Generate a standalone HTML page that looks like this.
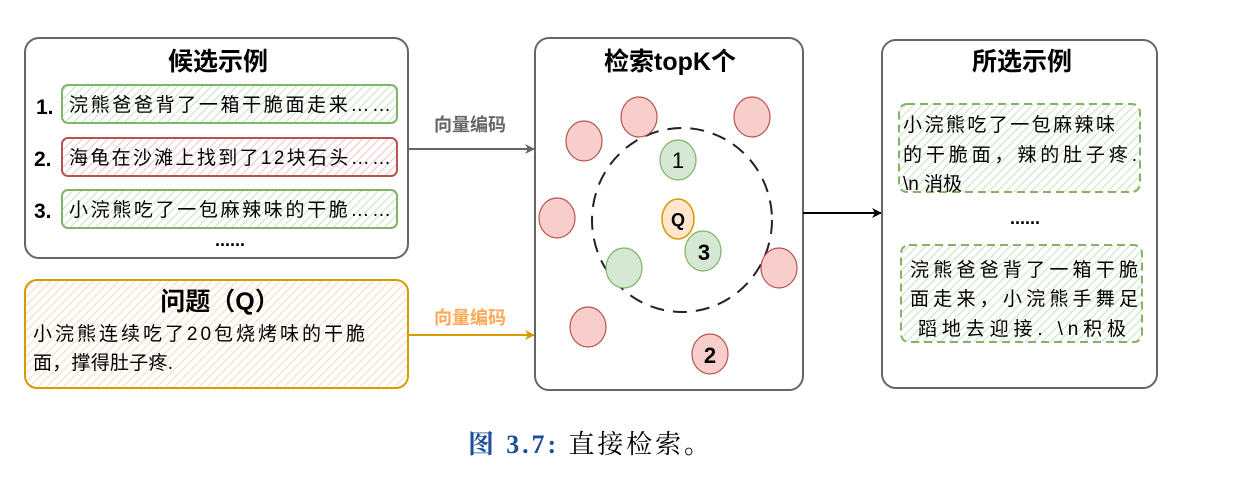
<!DOCTYPE html>
<html><head><meta charset="utf-8"><style>
html,body{margin:0;padding:0;background:#fff;}
svg text{font-family:"Liberation Sans","Noto Sans CJK SC",sans-serif;}
</style></head><body>
<svg width="1255" height="483" viewBox="0 0 1255 483" xmlns="http://www.w3.org/2000/svg">
<defs>
<pattern id="hg" width="6" height="6" patternUnits="userSpaceOnUse" patternTransform="rotate(45)"><rect width="6" height="6" fill="#fff"/><line x1="0" y1="0" x2="0" y2="6" stroke="#c9e3bf" stroke-width="2"/></pattern>
<pattern id="hr" width="6" height="6" patternUnits="userSpaceOnUse" patternTransform="rotate(45)"><rect width="6" height="6" fill="#fff"/><line x1="0" y1="0" x2="0" y2="6" stroke="#f2c4c4" stroke-width="2"/></pattern>
<pattern id="ho" width="6" height="6" patternUnits="userSpaceOnUse" patternTransform="rotate(45)"><rect width="6" height="6" fill="#fff"/><line x1="0" y1="0" x2="0" y2="6" stroke="#fbd9b8" stroke-width="2"/></pattern>
<marker id="ag" markerWidth="10" markerHeight="10" refX="9" refY="5" orient="auto" markerUnits="userSpaceOnUse"><path d="M0,0 L10,5 L0,10 L3,5z" fill="#666"/></marker>
<marker id="ao" markerWidth="10" markerHeight="10" refX="9" refY="5" orient="auto" markerUnits="userSpaceOnUse"><path d="M0,0 L10,5 L0,10 L3,5z" fill="#d79b00"/></marker>
<marker id="ab" markerWidth="10" markerHeight="10" refX="9" refY="5" orient="auto" markerUnits="userSpaceOnUse"><path d="M0,0 L10,5 L0,10 L3,5z" fill="#000"/></marker>
</defs>

<rect x="25" y="38" width="383" height="220" rx="14" fill="#fff" stroke="#666" stroke-width="2"/>
<text x="218" y="70" font-size="25" font-weight="bold" text-anchor="middle">候选示例</text>
<text x="36" y="114" font-size="21" font-weight="bold">1.</text>
<text x="34" y="166" font-size="21" font-weight="bold">2.</text>
<text x="34" y="218" font-size="21" font-weight="bold">3.</text>
<rect x="62" y="85" width="335" height="38" rx="6" fill="url(#hg)" stroke="#82b366" stroke-width="2"/>
<text x="69" y="111" font-size="19" textLength="322" lengthAdjust="spacing">浣熊爸爸背了一箱干脆面走来……</text>
<rect x="62" y="138" width="335" height="38" rx="6" fill="url(#hr)" stroke="#b85450" stroke-width="2"/>
<text x="69" y="164" font-size="19" textLength="322" lengthAdjust="spacing">海龟在沙滩上找到了12块石头……</text>
<rect x="62" y="190" width="335" height="38" rx="6" fill="url(#hg)" stroke="#82b366" stroke-width="2"/>
<text x="69" y="216" font-size="19" textLength="322" lengthAdjust="spacing">小浣熊吃了一包麻辣味的干脆……</text>
<text x="230" y="246" font-size="18" font-weight="bold" text-anchor="middle">......</text>

<rect x="25" y="280" width="383" height="108" rx="12" fill="url(#ho)" stroke="#d79b00" stroke-width="2"/>
<text x="220" y="310" font-size="25" font-weight="bold" text-anchor="middle">问题（Q）</text>
<text x="33" y="340" font-size="19" textLength="332" lengthAdjust="spacing">小浣熊连续吃了20包烧烤味的干脆</text>
<text x="33" y="369" font-size="19" textLength="140" lengthAdjust="spacing">面，撑得肚子疼.</text>

<line x1="408" y1="149" x2="534" y2="149" stroke="#666" stroke-width="2" marker-end="url(#ag)"/>
<text x="470" y="131" font-size="18" font-weight="bold" fill="#666" text-anchor="middle">向量编码</text>
<line x1="408" y1="335" x2="534" y2="335" stroke="#d79b00" stroke-width="2" marker-end="url(#ao)"/>
<text x="470" y="324" font-size="18" font-weight="bold" fill="#ffa957" text-anchor="middle">向量编码</text>

<rect x="535" y="38" width="268" height="352" rx="14" fill="#fff" stroke="#666" stroke-width="2"/>
<text x="670" y="70" font-size="25" font-weight="bold" text-anchor="middle">检索topK个</text>
<ellipse cx="682" cy="220" rx="90" ry="92" fill="none" stroke="#222" stroke-width="2" stroke-dasharray="14,9"/>
<g fill="#f8cecc" stroke="#b85450" stroke-width="1.2">
<ellipse cx="584" cy="141" rx="18" ry="20"/>
<ellipse cx="639" cy="117" rx="18" ry="20"/>
<ellipse cx="752" cy="117" rx="18" ry="20"/>
<ellipse cx="557" cy="218" rx="18" ry="20"/>
<ellipse cx="779" cy="268" rx="18" ry="20"/>
<ellipse cx="588" cy="327" rx="18" ry="20"/>
<ellipse cx="710" cy="354" rx="18" ry="20"/>
</g>
<g fill="#d5e8d4" stroke="#82b366" stroke-width="1.2">
<ellipse cx="678" cy="160" rx="18" ry="20"/>
<ellipse cx="703" cy="251" rx="18" ry="20"/>
<ellipse cx="624" cy="268" rx="18" ry="20"/>
</g>
<ellipse cx="678" cy="219" rx="16" ry="20" fill="#ffe6cc" stroke="#d79b00" stroke-width="1.5"/>
<text x="678" y="226" font-size="18" font-weight="bold" text-anchor="middle">Q</text>
<text x="678" y="168" font-size="22" text-anchor="middle">1</text>
<text x="704" y="260" font-size="22" font-weight="bold" text-anchor="middle">3</text>
<text x="710" y="363" font-size="22" font-weight="bold" text-anchor="middle">2</text>

<line x1="803" y1="213" x2="881" y2="213" stroke="#000" stroke-width="2" marker-end="url(#ab)"/>

<rect x="882" y="40" width="275" height="348" rx="14" fill="#fff" stroke="#666" stroke-width="2"/>
<text x="1022" y="70" font-size="25" font-weight="bold" text-anchor="middle">所选示例</text>
<rect x="899" y="104" width="241" height="88" rx="8" fill="url(#hg)" stroke="#82b366" stroke-width="2" stroke-dasharray="8,5"/>
<text x="903" y="131" font-size="19" textLength="212" lengthAdjust="spacing">小浣熊吃了一包麻辣味</text>
<text x="903" y="161" font-size="19" textLength="234" lengthAdjust="spacing">的干脆面，辣的肚子疼.</text>
<text x="903" y="190" font-size="19">\n 消极</text>
<text x="1025" y="224" font-size="18" font-weight="bold" text-anchor="middle">......</text>
<rect x="901" y="245" width="241" height="97" rx="8" fill="url(#hg)" stroke="#82b366" stroke-width="2" stroke-dasharray="8,5"/>
<text x="910" y="276" font-size="19" textLength="228" lengthAdjust="spacing">浣熊爸爸背了一箱干脆</text>
<text x="910" y="305" font-size="19" textLength="228" lengthAdjust="spacing">面走来，小浣熊手舞足</text>
<text x="918" y="335" font-size="19" textLength="208" lengthAdjust="spacing">蹈地去迎接. \n积极</text>

<text x="468" y="453" font-size="26" style="font-family:'Liberation Serif','Noto Serif CJK SC',serif" textLength="242" lengthAdjust="spacing"><tspan fill="#1f4e9a" font-weight="bold">图 3.7:</tspan><tspan fill="#000"> 直接检索。</tspan></text>
</svg>
</body></html>
